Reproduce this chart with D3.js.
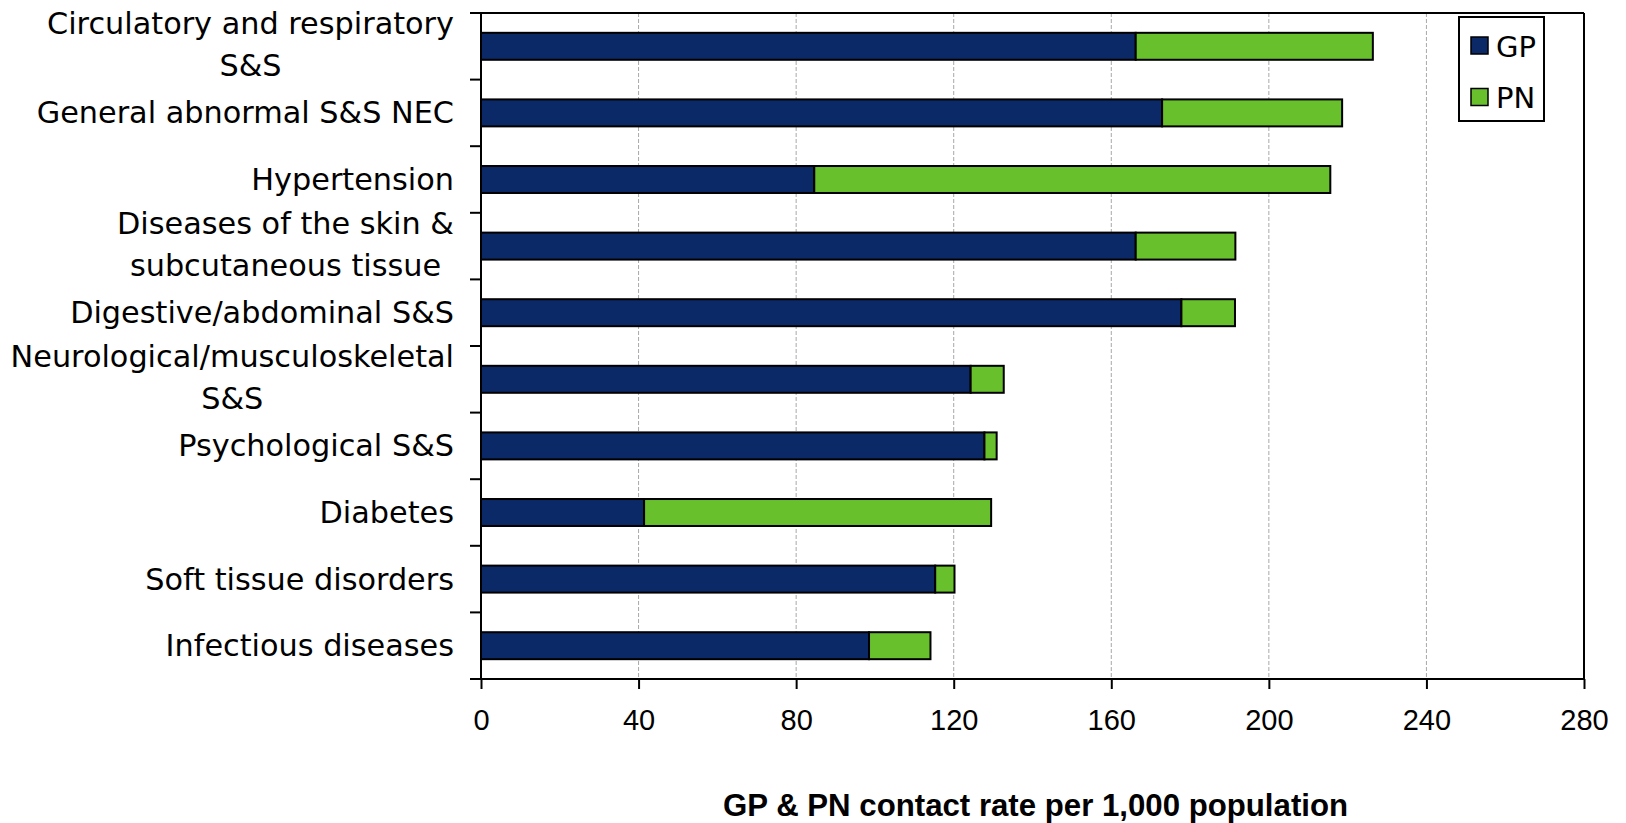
<!DOCTYPE html>
<html>
<head>
<meta charset="utf-8">
<script src="https://cdn.jsdelivr.net/npm/d3@7"></script>
<style>
  html, body { margin: 0; padding: 0; background: #fff; }
  svg { display: block; }
</style>
</head>
<body>
<svg id="chart" width="1626" height="823"></svg>
<script>
const categories = [
  "Circulatory and respiratory\nS&S",
  "General abnormal S&S NEC",
  "Hypertension",
  "Diseases of the skin &\nsubcutaneous tissue",
  "Digestive/abdominal S&S",
  "Neurological/musculoskeletal\nS&S",
  "Psychological S&S",
  "Diabetes",
  "Soft tissue disorders",
  "Infectious diseases"
];
const seriesNames = ["GP", "PN"];
const gpValues = [166.2, 172.9, 84.6, 166.2, 177.8, 124.3, 127.8, 41.4, 115.3, 98.5];
const pnValues = [60.2, 45.7, 131.0, 25.3, 13.6, 8.4, 3.1, 88.1, 4.9, 15.6];
const xTicks = [0, 40, 80, 120, 160, 200, 240, 280];
const xTitle = "GP & PN contact rate per 1,000 population";
const colors = { GP: "#0b2967", PN: "#68c02c" };

const svg = d3.select("#chart");
const margin = { left: 481, right: 1626 - 1584, top: 13, bottom: 823 - 679 };
const W = 1626, H = 823;
const plotL = margin.left, plotR = W - margin.right, plotT = margin.top, plotB = H - margin.bottom;

const x = d3.scaleLinear().domain([0, 280]).range([plotL, plotR]);
const y = d3.scaleBand().domain(categories).range([plotT, plotB])
  .paddingInner(0.595).paddingOuter(0.2975);

const data = categories.map((c, i) => ({ cat: c, GP: gpValues[i], PN: pnValues[i] }));
const stacked = d3.stack().keys(seriesNames)(data);

// gridlines
svg.append("g").selectAll("line")
  .data(xTicks.filter(t => t > 0 && t < 280))
  .join("line")
  .attr("x1", d => x(d)).attr("x2", d => x(d))
  .attr("y1", plotT).attr("y2", plotB)
  .attr("stroke", "#a8a8a8").attr("stroke-width", 1)
  .attr("stroke-dasharray", "4,2");

// bars
svg.append("g").selectAll("g")
  .data(stacked)
  .join("g")
  .attr("fill", d => colors[d.key])
  .selectAll("rect")
  .data(d => d)
  .join("rect")
  .attr("x", d => x(d[0]))
  .attr("width", d => x(d[1]) - x(d[0]))
  .attr("y", d => y(d.data.cat))
  .attr("height", y.bandwidth())
  .attr("stroke", "#000")
  .attr("stroke-width", 2);

// frame: top and right
svg.append("line").attr("x1", plotL).attr("x2", plotR).attr("y1", plotT).attr("y2", plotT)
  .attr("stroke", "#000").attr("stroke-width", 2);
svg.append("line").attr("x1", plotR).attr("x2", plotR).attr("y1", plotT).attr("y2", plotB)
  .attr("stroke", "#000").attr("stroke-width", 2);

// x axis
const xAxis = d3.axisBottom(x).tickValues(xTicks).tickSize(10).tickPadding(20).tickFormat(d3.format("d"));
const gx = svg.append("g").attr("transform", `translate(0,${plotB})`).call(xAxis);
gx.select(".domain").remove();
gx.append("line").attr("x1", plotL - 11).attr("x2", plotR).attr("y1", 0).attr("y2", 0)
  .attr("stroke", "#000").attr("stroke-width", 2);
gx.selectAll(".tick line").attr("stroke", "#000").attr("stroke-width", 2);
gx.selectAll(".tick text")
  .attr("fill", "#000")
  .style("font-family", "'Liberation Sans', Arial, sans-serif")
  .style("font-size", "29px");

// y axis line and ticks at band boundaries
svg.append("line").attr("x1", plotL).attr("x2", plotL).attr("y1", plotT).attr("y2", plotB)
  .attr("stroke", "#000").attr("stroke-width", 2);
const step = y.step();
const boundaries = d3.range(categories.length + 1).map(i => y.range()[0] + i * step);
svg.append("g").selectAll("line")
  .data(boundaries)
  .join("line")
  .attr("x1", plotL - 11).attr("x2", plotL)
  .attr("y1", d => d).attr("y2", d => d)
  .attr("stroke", "#000").attr("stroke-width", 2);

// category labels
const labelRight = 454;
const lineH = 41.7;
const lg = svg.append("g")
  .style("font-family", "'DejaVu Sans', Verdana, sans-serif")
  .style("font-size", "30.3px").attr("fill", "#000");
categories.forEach(c => {
  const lines = c.split("\n");
  const cy = y(c) + y.bandwidth() / 2;
  const t = lg.append("text").attr("text-anchor", "middle");
  const spans = lines.map((ln, j) => t.append("tspan").text(ln));
  const widths = spans.map(s => s.node().getComputedTextLength());
  const bw = d3.max(widths);
  const cx = labelRight - bw / 2;
  const n = lines.length;
  const base0 = cy + 10.5 - (n - 1) * lineH / 2 - (n > 1 ? 1.5 : 0);
  spans.forEach((s, j) => s.attr("x", cx).attr("y", base0 + j * lineH));
});

// x title
svg.append("text")
  .attr("x", (plotL + plotR) / 2 + 3).attr("y", 816)
  .attr("text-anchor", "middle")
  .style("font-family", "'Liberation Sans', Arial, sans-serif")
  .style("font-size", "31.2px").style("font-weight", "bold")
  .attr("fill", "#000")
  .text(xTitle);

// legend
const leg = svg.append("g");
leg.append("rect").attr("x", 1459).attr("y", 17).attr("width", 85).attr("height", 104)
  .attr("fill", "#fff").attr("stroke", "#000").attr("stroke-width", 2);
seriesNames.forEach((s, i) => {
  const yy = 37 + i * 51.5;
  leg.append("rect").attr("x", 1471).attr("y", yy).attr("width", 17).attr("height", 17)
    .attr("fill", colors[s]).attr("stroke", "#000").attr("stroke-width", 1.5);
  leg.append("text").attr("x", 1496).attr("y", yy + 19.5)
    .style("font-family", "'DejaVu Sans', Verdana, sans-serif")
    .style("font-size", "29px").attr("fill", "#000").text(s);
});
</script>
</body>
</html>
